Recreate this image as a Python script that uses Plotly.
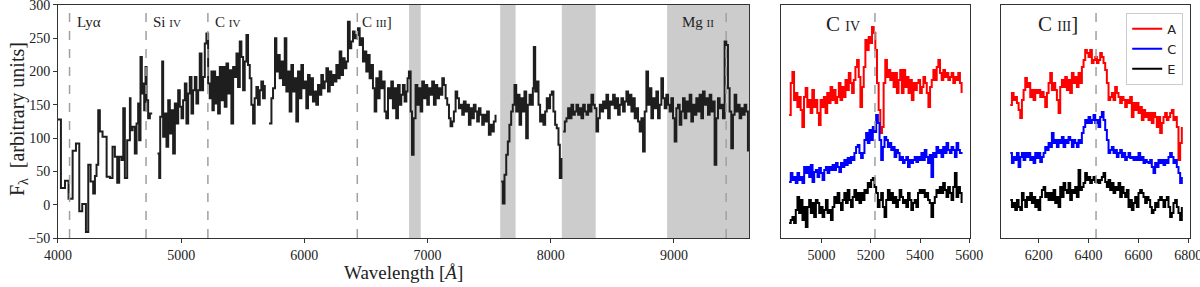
import numpy as np
import plotly.graph_objects as go

# ---- main spectrum (wavelength in Angstrom, flux in arbitrary units); None = gap
wave_main = [
    4000, 4024, 4057, 4086, 4119, 4146, 4173, 4197, 4227, 4246, 4265, 4286, 4300, 4313, 4327,
    4340, 4362, 4395, 4422, 4443, 4462, 4481, 4497, 4516, 4530, 4543, 4562, 4584, 4589, 4605,
    4624, 4638, 4651, 4659, 4670, 4681, 4692, 4700, 4711, 4719, 4732, 4746, 4765,
    4790,
    4808, 4822, 4830, 4846, 4854, 4868, 4881, 4895, 4908, 4922, 4935, 4949, 4962, 4976, 4989,
    5003, 5016, 5030, 5043, 5057, 5070, 5084, 5097, 5111, 5124, 5138, 5151, 5165, 5178, 5192,
    5205, 5219, 5232, 5246, 5254, 5265, 5276, 5287, 5300, 5314, 5327, 5341, 5354, 5368, 5381,
    5395, 5408, 5422, 5435, 5449, 5462, 5476, 5489, 5503, 5516, 5530, 5543, 5557, 5570, 5584,
    5597, 5611, 5624, 5638, 5651, 5665, 5679,
    5695,
    5713, 5733, 5746, 5762, 5773, 5787, 5800, 5814, 5827, 5841, 5854, 5868, 5881, 5895, 5908,
    5922, 5935, 5949, 5962, 5976, 5989, 6003, 6016, 6030, 6043, 6057, 6070, 6084, 6097, 6111,
    6124, 6138, 6151, 6165, 6179, 6192, 6206, 6219, 6233, 6246, 6260, 6273, 6287, 6300, 6314,
    6327, 6341, 6354, 6368, 6381, 6395, 6408, 6422, 6435, 6449, 6462, 6476, 6489, 6503, 6516,
    6530, 6543, 6557, 6571, 6584, 6598, 6611, 6625, 6638, 6652, 6665, 6679, 6692, 6706, 6719,
    6733, 6746, 6760, 6774, 6787, 6800, 6814, 6828, 6838, 6849, 6863, 6874, 6887, 6903, 6917,
    6930, 6944, 6957, 6971, 6984, 6998, 7011, 7025, 7038, 7052, 7066, 7079, 7093, 7106, 7120,
    7133, 7147, 7160, 7174, 7187, 7201, 7214, 7228, 7241, 7255, 7268, 7282, 7295, 7309, 7322,
    7336, 7349, 7363, 7376, 7390, 7403, 7417, 7430, 7444, 7457, 7471, 7484, 7498, 7512, 7525,
    7538, 7552,
    7575,
    7598, 7611, 7625, 7639, 7652, 7665, 7679, 7692, 7706, 7720, 7733, 7747, 7760, 7774, 7787,
    7801, 7814, 7828, 7841, 7855, 7863, 7874, 7887, 7901, 7914, 7928, 7941, 7955, 7968, 7982,
    7995, 8009, 8022, 8036, 8049, 8063, 8074, 8087,
]
flux_main = [
    128, 25, 36, 9, 81, 92, -10, 1, -41, 60, 35, 17, 43, 60, 142,
    110, 102, 42, 40, 87, 72, 33, 72, 67, 145, 40, 97, 160, 112, 117,
    77, 122, 152, 97, 222, 167, 182, 142, 207, 157, 130, 137, 137,
    None,
    77, 40, 132, 215, 102, 137, 87, 157, 107, 142, 77, 152, 122, 172, 147,
    130, 157, 182, 122, 167, 192, 137, 172, 192, 152, 172, 227, 172, 192, 242,
    257, 182, 160, 200, 142, 200, 152, 192, 137, 207, 157, 207, 147, 212, 167,
    202, 122, 207, 192, 227, 177, 245, 222, 172, 215, 255, 210, 190, 150, 122,
    160, 177, 150, 172, 185, 160, 180,
    None,
    122, 160, 175, 250, 200, 225, 190, 215, 180, 250, 170, 200, 140, 210, 170,
    190, 125, 200, 160, 210, 175, 185, 145, 195, 165, 190, 155, 170, 150, 180,
    165, 195, 175, 185, 205, 170, 200, 180, 195, 185, 210, 190, 230, 195, 220,
    205, 215, 275, 235, 245, 260, 250, 255, 265, 240, 250, 215, 230, 200, 225,
    190, 210, 175, 140, 190, 160, 200, 175, 185, 140, 130, 175, 160, 185, 145,
    175, 130, 180, 150, 165, 180, 155, 170, 190, 200, 140, 75, 130, 180, 150,
    175, 140, 185, 160, 180, 150, 175, 165, 185, 150, 180, 160, 175, 165, 190,
    180, 160, 150, 130, 118, 125, 140, 170, 160, 145, 150, 135, 155, 140, 150,
    120, 145, 130, 150, 140, 125, 145, 135, 120, 135, 125, 140, 105, 120, 110,
    125, 135,
    None,
    35, 2, 45, 75, 95, 120, 140, 150, 180, 140, 165, 120, 160, 140, 170,
    100, 150, 165, 150, 175, 237, 170, 185, 150, 125, 135, 120, 140, 160, 145,
    165, 170, 140, 120, 115, 90, 40, 70,
]
# red end of the spectrum, sampled on the detector grid 8101..9601 A
red_start, red_end = 8101, 9601
flux_red = [
    110, 125, 130, 145, 130, 150, 135, 140, 150, 135, 145, 130, 150, 140, 135,
    150, 140, 165, 150, 145, 110, 130, 150, 140, 155, 145, 165, 130, 155, 150,
    165, 145, 160, 135, 150, 160, 140, 155, 170, 150, 165, 140, 160, 130, 145,
    125, 110, 130, 80, 140, 200, 150, 175, 130, 160, 145, 170, 130, 150, 190,
    160, 145, 165, 150, 140, 160, 130, 95, 145, 150, 120, 140, 160, 130, 155,
    140, 165, 125, 150, 135, 160, 140, 165, 130, 170, 150, 160, 135, 165, 140,
    155, 60, 130, 160, 145, 150, 130, 245, 240, 175, 140, 85, 135, 165, 140,
    150, 130, 145, 135, 150, 140, 80,
]

# emission lines and telluric bands
line_names = ["Lyα", "Si <span style='font-size:11px'>IV</span>",
              "C <span style='font-size:11px'>IV</span>",
              "C <span style='font-size:11px'>III</span>]",
              "Mg <span style='font-size:11px'>II</span>"]
line_waves = [4094, 4715, 5217, 6430, 9424]
label_waves = [4140, 4755, 5260, 6455, 9050]
bands = [(6850, 6945), (7590, 7715), (8090, 8365), (8945, 9700)]

# ---- zoom panels: images A, C, E (offset fluxes)
civ_range = (4868, 5569)
civ_A = [123, 155, 166, 138, 145, 131, 141, 128, 111, 141, 150, 131, 138, 125, 148, 131, 138, 125, 113, 138,
         131, 141, 125, 145, 135, 151, 138, 148, 135, 141, 155, 138, 151, 141, 158, 148, 165, 155, 145, 158,
         171, 178, 161, 131, 151, 171, 198, 188, 201, 195, 211, 205, 188, 155, 128, 105, 111, 155, 178, 161,
         168, 158, 165, 151, 165, 145, 158, 168, 145, 168, 151, 161, 145, 158, 138, 155, 148, 155, 158, 145,
         151, 161, 155, 145, 131, 151, 158, 168, 158, 171, 178, 165, 158, 168, 161, 165, 158, 161, 165, 155,
         161, 158, 165, 155, 145]
civ_C = [56, 65, 58, 61, 55, 65, 58, 61, 55, 71, 65, 71, 61, 73, 56, 66, 68, 61, 70, 65,
         58, 68, 71, 65, 71, 68, 73, 68, 75, 71, 66, 75, 71, 78, 73, 80, 75, 81, 78, 85,
         91, 93, 85, 80, 85, 98, 105, 95, 108, 98, 111, 106, 123, 115, 98, 78, 91, 101, 98, 91,
         95, 88, 91, 81, 88, 85, 78, 81, 75, 78, 81, 71, 78, 75, 78, 81, 76, 81, 78, 85,
         78, 88, 81, 75, 83, 61, 85, 81, 91, 85, 88, 81, 91, 85, 95, 88, 85, 91, 88, 81,
         95, 88, 85, 86]
civ_E = [15, 18, 21, 15, 28, 41, 25, 38, 18, 31, 11, 31, 38, 25, 35, 21, 38, 35, 25, 31,
         21, 28, 38, 25, 28, 18, 31, 41, 35, 45, 35, 28, 38, 45, 35, 48, 38, 31, 41, 48,
         38, 45, 35, 45, 38, 48, 45, 55, 51, 58, 60, 51, 45, 31, 38, 45, 31, 21, 38, 48,
         38, 45, 35, 41, 31, 38, 48, 41, 35, 38, 31, 45, 38, 28, 35, 38, 31, 45, 48, 45,
         48, 41, 45, 38, 35, 21, 35, 41, 48, 45, 51, 45, 55, 48, 41, 51, 45, 38, 51, 65,
         41, 51, 45, 35]

ciii_range = (6086, 6774)
ciii_A = [133, 145, 138, 141, 135, 128, 120, 138, 148, 160, 151, 155, 141, 148, 138, 148, 145, 148, 141, 146,
          141, 131, 145, 155, 165, 148, 155, 148, 138, 125, 151, 158, 151, 161, 148, 158, 145, 165, 155, 161,
          151, 165, 155, 171, 178, 188, 185, 181, 188, 175, 178, 181, 175, 178, 185, 181, 175, 168, 155, 138,
          141, 145, 138, 151, 145, 141, 135, 141, 138, 131, 138, 135, 141, 121, 135, 128, 135, 125, 131, 118,
          128, 121, 125, 118, 125, 115, 125, 121, 111, 121, 105, 115, 121, 125, 118, 121, 125, 128, 118, 121,
          111, 78, 95, 111]
ciii_C = [85, 75, 81, 78, 85, 71, 81, 85, 78, 85, 81, 85, 78, 81, 75, 85, 80, 85, 76, 81,
          85, 91, 88, 95, 91, 105, 95, 98, 91, 98, 95, 101, 91, 98, 95, 101, 98, 91, 98, 95,
          91, 98, 95, 105, 111, 118, 115, 121, 115, 118, 123, 115, 118, 111, 121, 126, 118, 108, 98, 85,
          88, 91, 85, 88, 81, 85, 88, 81, 85, 78, 81, 85, 80, 81, 78, 81, 78, 85, 78, 81,
          75, 78, 76, 75, 78, 71, 65, 75, 71, 78, 75, 78, 73, 78, 75, 81, 85, 81, 75, 78,
          71, 65, 55, 61]
ciii_E = [38, 31, 35, 28, 38, 31, 28, 45, 38, 31, 41, 38, 45, 35, 41, 31, 38, 28, 41, 48,
          51, 41, 45, 38, 45, 38, 48, 35, 41, 31, 51, 41, 55, 48, 45, 55, 38, 48, 45, 51,
          41, 68, 48, 51, 55, 65, 58, 61, 55, 58, 61, 56, 58, 55, 58, 61, 65, 56, 51, 58,
          48, 55, 45, 51, 48, 55, 41, 51, 45, 41, 48, 31, 38, 28, 35, 41, 31, 45, 48, 45,
          41, 35, 41, 38, 31, 25, 28, 35, 31, 38, 41, 38, 31, 38, 41, 31, 21, 25, 35, 38,
          31, 25, 18, 31]

image_names = ["A", "C", "E"]
image_colors = ["#ff0000", "#0000ff", "#000000"]

SERIF = "Liberation Serif"
TXT = "#222"

fig = go.Figure()

# main spectrum
fig.add_trace(go.Scatter(x=wave_main, y=flux_main, mode="lines", line_shape="hv",
                         line=dict(color="#1e1e1e", width=2), showlegend=False,
                         connectgaps=False, xaxis="x", yaxis="y"))
fig.add_trace(go.Scatter(x=np.linspace(red_start, red_end, len(flux_red)), y=flux_red,
                         mode="lines", line_shape="hv", line=dict(color="#1e1e1e", width=2),
                         showlegend=False, xaxis="x", yaxis="y"))

# zoom panels
for vals, col in zip([civ_A, civ_C, civ_E], image_colors):
    fig.add_trace(go.Scatter(x=np.linspace(civ_range[0], civ_range[1], len(vals)), y=vals,
                             mode="lines", line_shape="hv", line=dict(color=col, width=2),
                             showlegend=False, xaxis="x2", yaxis="y2"))
for vals, col, name in zip([ciii_A, ciii_C, ciii_E], image_colors, image_names):
    fig.add_trace(go.Scatter(x=np.linspace(ciii_range[0], ciii_range[1], len(vals)), y=vals,
                             mode="lines", line_shape="hv", line=dict(color=col, width=2),
                             name=name, xaxis="x3", yaxis="y3"))

shapes = []
for b0, b1 in bands:
    shapes.append(dict(type="rect", xref="x", yref="y domain", x0=b0, x1=b1, y0=0, y1=1,
                       fillcolor="#cccccc", line_width=0, layer="below"))
for w in line_waves:
    shapes.append(dict(type="line", xref="x", yref="y domain", x0=w, x1=w, y0=0, y1=1,
                       line=dict(color="#a0a0a0", width=1.5, dash="dash")))
shapes.append(dict(type="line", xref="x2", yref="y2 domain", x0=line_waves[2], x1=line_waves[2],
                   y0=0, y1=1, line=dict(color="#a0a0a0", width=1.5, dash="dash")))
shapes.append(dict(type="line", xref="x3", yref="y3 domain", x0=line_waves[3], x1=line_waves[3],
                   y0=0, y1=1, line=dict(color="#a0a0a0", width=1.5, dash="dash")))

annotations = []
for name, lw in zip(line_names, label_waves):
    annotations.append(dict(x=lw, y=0.925, xref="x", yref="paper", text=name, showarrow=False,
                            xanchor="left", yanchor="middle", font=dict(family=SERIF, size=15, color=TXT)))
annotations.append(dict(x=5010, y=0.915, xref="x2", yref="paper",
                        text="C <span style='font-size:14px'>IV</span>", showarrow=False,
                        xanchor="left", yanchor="middle", font=dict(family=SERIF, size=21, color=TXT)))
annotations.append(dict(x=6190, y=0.915, xref="x3", yref="paper",
                        text="C <span style='font-size:14px'>III</span>]", showarrow=False,
                        xanchor="left", yanchor="middle", font=dict(family=SERIF, size=21, color=TXT)))
# axis titles
annotations.append(dict(x=0.336, y=0.05, xref="paper", yref="paper", text="Wavelength [<i>Å</i>]",
                        showarrow=False, xanchor="center", yanchor="middle",
                        font=dict(family=SERIF, size=19, color=TXT)))
annotations.append(dict(x=0.015, y=0.585, xref="paper", yref="paper", text="F<sub>λ</sub>  [arbitrary units]",
                        showarrow=False, xanchor="center", yanchor="middle", textangle=-90,
                        font=dict(family=SERIF, size=20, color=TXT)))

axis_common = dict(showline=True, linecolor="#333", linewidth=1, mirror=True,
                   ticklen=4, tickcolor="#333", showgrid=False, zeroline=False, automargin=False,
                   ticklabeloverflow="allow", tickfont=dict(family=SERIF, size=14, color=TXT))

fig.update_layout(
    width=1200, height=287,
    margin=dict(l=0, r=0, t=0, b=0, autoexpand=False),
    plot_bgcolor="white", paper_bgcolor="white",
    shapes=shapes, annotations=annotations,
    xaxis=dict(domain=[0.0483, 0.6242], range=[4000, 9610], tickvals=[4000, 5000, 6000, 7000, 8000, 9000],
               ticks="outside", **axis_common),
    yaxis=dict(domain=[0.1707, 0.9826], range=[-50, 300], tickvals=[-50, 0, 50, 100, 150, 200, 250, 300],
               ticktext=["−50", "0", "50", "100", "150", "200", "250", "300"], ticks="outside",
               **axis_common),
    xaxis2=dict(domain=[0.6508, 0.8083], range=[4835, 5603], tickvals=[5000, 5200, 5400, 5600],
                anchor="y2", ticks="outside", **axis_common),
    yaxis2=dict(domain=[0.1707, 0.9826], range=[0, 233], showticklabels=False, anchor="x2",
                ticks="", **axis_common),
    xaxis3=dict(domain=[0.8342, 0.9917], range=[6049, 6807], tickvals=[6200, 6400, 6600, 6800],
                anchor="y3", ticks="outside", **axis_common),
    yaxis3=dict(domain=[0.1707, 0.9826], range=[0, 233], showticklabels=False, anchor="x3",
                ticks="", **axis_common),
    legend=dict(x=0.986, y=0.955, xanchor="right", yanchor="top", bgcolor="white",
                bordercolor="#cccccc", borderwidth=1, font=dict(family="DejaVu Sans", size=13, color=TXT),
                tracegroupgap=0, itemwidth=30),
)

# the page's default body margin would shift the 1200x287 figure; drop it
fig.write_html("out.html", config={"displayModeBar": False},
               post_script="document.body.style.margin='0';")
